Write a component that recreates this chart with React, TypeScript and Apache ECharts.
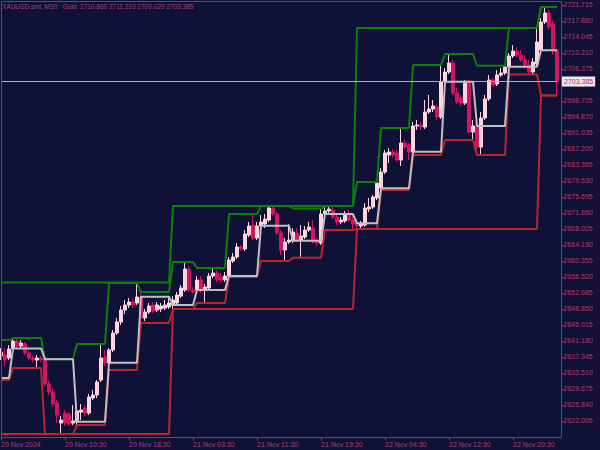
import React, { useEffect, useRef } from "react";
import * as echarts from "echarts";

// ---- data ----
const timeLabels = ["20 Nov 2024", "20 Nov 10:30", "20 Nov 18:30", "21 Nov 03:30", "21 Nov 11:30", "21 Nov 19:30", "22 Nov 04:30", "22 Nov 12:30", "22 Nov 20:30"];

const priceTicks = [2721.715, 2717.88, 2714.045, 2710.21, 2706.375, 2702.54, 2698.705, 2694.87, 2691.035, 2687.2, 2683.365, 2679.53, 2675.695, 2671.86, 2668.025, 2664.19, 2660.355, 2656.52, 2652.685, 2648.85, 2645.015, 2641.18, 2637.345, 2633.51, 2629.675, 2625.84, 2622.005];

const opens = [
  2637.58, 2637.82, 2637.10, 2639.38, 2641.17, 2639.97, 2640.45, 2638.30, 2637.10, 2636.62,
  2637.10, 2636.86, 2630.87, 2628.95, 2626.31, 2621.52, 2623.91, 2623.67, 2621.52, 2621.76,
  2624.15, 2625.11, 2623.91, 2627.51, 2628.23, 2631.82, 2637.34, 2635.90, 2639.01, 2643.09,
  2645.73, 2648.60, 2649.80, 2650.52, 2650.28, 2651.72, 2646.69, 2648.12, 2649.80, 2648.60,
  2648.84, 2649.08, 2649.32, 2649.80, 2650.28, 2651.96, 2653.40, 2658.43, 2653.40, 2653.40,
  2655.79, 2653.40, 2653.88, 2656.75, 2657.47, 2656.51, 2655.79, 2656.75, 2660.35, 2661.31,
  2663.70, 2663.22, 2666.58, 2668.98, 2665.86, 2668.74, 2669.22, 2670.18, 2673.05, 2671.61,
  2667.06, 2662.98, 2664.90, 2665.14, 2667.06, 2665.38, 2666.10, 2667.78, 2668.26, 2664.90,
  2664.66, 2671.61, 2672.33, 2672.57, 2670.90, 2669.70, 2669.94, 2671.61, 2670.18, 2669.46,
  2668.74, 2668.98, 2672.81, 2673.29, 2675.45, 2677.85, 2681.68, 2685.76, 2686.48, 2686.24,
  2684.56, 2688.63, 2688.15, 2686.48, 2692.71, 2692.95, 2692.47, 2696.06, 2696.78, 2697.26,
  2694.87, 2703.25, 2705.65, 2707.81, 2700.62, 2699.42, 2698.22, 2703.01, 2691.27, 2692.71,
  2687.67, 2694.63, 2699.18, 2703.73, 2702.78, 2704.93, 2705.41, 2706.85, 2709.49, 2710.69,
  2709.73, 2708.53, 2707.33, 2705.65, 2707.57, 2710.92, 2717.64, 2719.79, 2717.16, 2710.86
];
const closes = [
  2638.54, 2636.62, 2639.25, 2641.17, 2639.97, 2640.69, 2638.30, 2637.10, 2636.62, 2637.10,
  2636.62, 2630.87, 2628.95, 2626.07, 2623.43, 2622.24, 2621.52, 2621.28, 2622.00, 2624.39,
  2624.63, 2623.91, 2627.75, 2628.23, 2631.34, 2637.10, 2635.90, 2639.01, 2643.09, 2645.73,
  2648.60, 2649.80, 2650.52, 2649.80, 2651.72, 2646.69, 2648.12, 2649.56, 2648.36, 2649.80,
  2649.56, 2649.80, 2650.28, 2651.00, 2652.20, 2653.88, 2658.43, 2653.40, 2652.92, 2655.79,
  2653.40, 2654.12, 2656.75, 2657.47, 2655.79, 2655.79, 2656.75, 2660.59, 2661.31, 2663.70,
  2663.22, 2666.82, 2668.74, 2665.86, 2668.74, 2669.70, 2670.42, 2673.05, 2671.61, 2667.06,
  2662.98, 2664.90, 2665.38, 2667.30, 2665.38, 2666.34, 2667.78, 2668.50, 2664.90, 2664.66,
  2671.61, 2672.33, 2672.81, 2670.90, 2669.70, 2670.18, 2671.61, 2670.18, 2669.22, 2668.74,
  2669.22, 2673.05, 2673.29, 2675.69, 2679.04, 2681.68, 2686.24, 2686.48, 2685.76, 2684.56,
  2688.63, 2687.67, 2686.48, 2692.71, 2692.95, 2692.47, 2696.06, 2696.78, 2697.50, 2694.87,
  2703.25, 2705.65, 2707.81, 2700.62, 2698.46, 2698.22, 2703.01, 2691.27, 2692.71, 2687.67,
  2694.63, 2699.18, 2703.73, 2702.54, 2704.93, 2705.41, 2706.85, 2709.49, 2710.69, 2709.73,
  2708.53, 2707.33, 2705.65, 2708.05, 2712.84, 2717.64, 2719.79, 2716.44, 2710.92, 2703.385
];
const lows = [
  2636.62, 2635.18, 2636.62, 2639.01, 2639.49, 2639.49, 2637.82, 2636.62, 2636.14, 2634.70,
  2636.14, 2630.39, 2628.23, 2625.35, 2621.52, 2618.88, 2620.80, 2620.80, 2621.04, 2621.04,
  2622.24, 2623.19, 2623.43, 2627.03, 2627.51, 2631.34, 2635.18, 2634.22, 2638.54, 2642.61,
  2645.01, 2647.64, 2649.08, 2649.08, 2649.80, 2645.49, 2645.97, 2647.64, 2647.88, 2648.12,
  2648.12, 2648.60, 2648.84, 2648.84, 2649.56, 2651.48, 2652.92, 2652.92, 2652.44, 2652.92,
  2652.68, 2650.28, 2653.40, 2656.27, 2655.31, 2655.07, 2655.31, 2656.51, 2659.87, 2660.83,
  2662.75, 2662.75, 2666.10, 2665.38, 2665.38, 2667.78, 2668.26, 2669.70, 2671.13, 2666.58,
  2661.79, 2660.35, 2664.42, 2664.66, 2664.90, 2661.14, 2665.62, 2667.30, 2664.42, 2663.94,
  2664.18, 2671.13, 2671.61, 2670.42, 2668.98, 2669.22, 2669.46, 2669.70, 2667.78, 2668.02,
  2668.26, 2668.50, 2672.09, 2672.81, 2674.97, 2677.37, 2681.20, 2683.84, 2685.04, 2684.08,
  2683.12, 2687.19, 2684.56, 2685.76, 2691.75, 2691.75, 2691.99, 2695.58, 2696.06, 2694.15,
  2694.39, 2702.78, 2705.17, 2700.14, 2697.98, 2697.50, 2697.74, 2690.79, 2689.35, 2686.95,
  2685.76, 2694.15, 2698.70, 2702.06, 2702.30, 2704.45, 2704.93, 2706.61, 2709.01, 2709.25,
  2708.05, 2706.61, 2705.05, 2705.17, 2707.09, 2710.45, 2717.16, 2715.72, 2709.73, 2700.02
];
const highs = [
  2639.49, 2639.49, 2640.21, 2641.89, 2641.65, 2641.41, 2640.93, 2638.78, 2637.58, 2637.82,
  2637.58, 2636.86, 2631.82, 2629.91, 2627.03, 2623.19, 2624.63, 2624.15, 2625.83, 2624.87,
  2626.07, 2625.83, 2628.47, 2629.43, 2631.82, 2640.45, 2639.01, 2639.49, 2643.81, 2646.69,
  2649.56, 2651.00, 2651.48, 2651.24, 2655.07, 2652.92, 2648.84, 2650.28, 2650.52, 2650.52,
  2650.28, 2651.00, 2651.48, 2651.96, 2652.92, 2654.60, 2660.11, 2659.15, 2654.12, 2656.75,
  2656.75, 2654.84, 2657.47, 2658.67, 2658.19, 2657.47, 2657.71, 2661.31, 2662.27, 2664.66,
  2664.18, 2667.78, 2669.70, 2671.61, 2669.70, 2671.37, 2671.61, 2673.53, 2673.53, 2672.09,
  2667.78, 2665.86, 2669.22, 2668.26, 2668.26, 2668.98, 2668.74, 2669.70, 2670.18, 2665.86,
  2672.93, 2673.53, 2673.53, 2673.29, 2671.61, 2670.90, 2672.33, 2672.57, 2671.37, 2670.18,
  2669.94, 2674.25, 2675.45, 2676.17, 2679.28, 2682.64, 2686.95, 2687.43, 2687.19, 2686.95,
  2692.23, 2689.35, 2688.63, 2693.67, 2694.15, 2693.67, 2698.94, 2700.14, 2698.94, 2697.74,
  2707.33, 2706.61, 2709.97, 2708.53, 2701.82, 2700.14, 2703.73, 2703.73, 2694.15, 2694.63,
  2696.06, 2700.14, 2704.93, 2704.21, 2706.13, 2706.61, 2707.16, 2710.21, 2712.12, 2711.64,
  2710.92, 2709.73, 2708.53, 2709.01, 2716.20, 2718.60, 2721.23, 2720.51, 2718.12, 2711.21
];

// 4-hour channel steps (first bar index of each step)
const h4Start = [0, 3, 11, 19, 27, 35, 43, 49, 57, 65, 73, 81, 89, 95, 103, 111, 119, 127, 135];
const h4High = [2641.41, 2641.89, 2636.86, 2640.45, 2655.07, 2652.92, 2660.11, 2658.67, 2671.61, 2673.53, 2672.93, 2673.53, 2679.28, 2692.23, 2707.33, 2709.97, 2707.16, 2716.2, 2721.23];
const h4Low = [2631.82, 2634.7, 2618.88, 2621.04, 2634.22, 2645.49, 2648.84, 2650.28, 2656.51, 2660.35, 2661.14, 2667.78, 2668.02, 2677.37, 2685.76, 2689.35, 2685.76, 2705.05, 2700.02];
const h4Open = [2632.3, 2639.38, 2636.79, 2621.83, 2635.97, 2651.79, 2649.8, 2653.4, 2656.75, 2668.81, 2665.21, 2671.61, 2669.39, 2677.77, 2686.55, 2703.33, 2692.71, 2706.92, 2710.86];

// daily channel steps
const dayStart = [0, 43, 89, 135];
const dayHigh = [2655.2, 2673.53, 2716.2, 2721.23];
const dayLow = [2618.88, 2648.84, 2668.02, 2700.02];

const lastPrice = 2703.385;
const titleText = "XAUUSD.sml, M30:  Gold  2710.860 2711.210 2700.020 2703.385";

// ---- styling ----
const BG = "#0f1137";
const FG = "#a8406c";
const FRAME = "#8a3a62";
const BULL = "#ffd6df";
const BEAR = "#cf1760";
const GREEN = "#0a800a";
const RED = "#b8262a";
const SILVER = "#c0c0c4";
const FONT = "Liberation Sans";

const N = opens.length;
const categories = opens.map((_, i) => (i % 16 === 0 ? timeLabels[i / 16] : String(i)));
const candleData = opens.map((o, i) => [o, closes[i], lows[i], highs[i]]);
const stepSeries = (starts: number[], levels: number[]) => {
  const out: number[] = [];
  for (let i = 0; i < N; i++) {
    let k = 0;
    for (let j = 0; j < starts.length; j++) if (starts[j] <= i) k = j;
    out.push(levels[k]);
  }
  return out;
};

const lineSeries = (data: number[], color: string, z: number) => ({
  type: "line",
  data,
  symbol: "none",
  silent: true,
  z,
  lineStyle: { color, width: 2 },
});

export default function App() {
  const ref = useRef<HTMLDivElement>(null);
  useEffect(() => {
    const chart = echarts.init(ref.current!, null, { renderer: "svg" });
    const option: any = {
      animation: false,
      backgroundColor: BG,
      title: {
        text: titleText,
        left: 2,
        top: 3,
        padding: 0,
        textStyle: { fontSize: 6.5, color: FG, fontWeight: "normal", fontFamily: FONT },
      },
      grid: { left: 1, right: 43, top: 1, bottom: 12.5, containLabel: false, outerBoundsMode: "none" },
      xAxis: {
        type: "category",
        data: categories,
        boundaryGap: false,
        axisLine: { show: false },
        axisTick: { show: true, interval: 15, length: 3, lineStyle: { color: FRAME } },
        axisLabel: {
          interval: 15,
          align: "left",
          margin: 3,
          fontSize: 7,
          color: FG,
          fontFamily: FONT,
          formatter: (v: string, i: number) => (i % 16 === 0 ? timeLabels[i / 16] : ""),
        },
        splitLine: { show: false },
      },
      yAxis: {
        type: "value",
        position: "right",
        min: 2618.05,
        max: 2722.67,
        offset: 4.5,
        scale: true,
        axisLine: { show: false },
        axisTick: { show: true, length: 3, customValues: priceTicks, lineStyle: { color: FRAME } },
        axisLabel: {
          customValues: priceTicks,
          margin: 2,
          fontSize: 7,
          color: FG,
          fontFamily: FONT,
          formatter: (v: number) => v.toFixed(3),
        },
        splitLine: { show: false },
      },
      graphic: [
        {
          type: "rect",
          z: 100,
          silent: true,
          shape: { x: 1.5, y: 1.5, width: 560, height: 436 },
          style: { fill: "none", stroke: FRAME, lineWidth: 1 },
        },
      ],
      series: [
        {
          type: "candlestick",
          data: candleData,
          barWidth: 3,
          z: 2,
          silent: true,
          itemStyle: {
            color: BULL,
            color0: BEAR,
            borderColor: BULL,
            borderColor0: BEAR,
            borderWidth: 1,
          },
          markLine: {
            silent: true,
            symbol: ["none", "none"],
            lineStyle: { color: "#b8a8b8", width: 1, type: "solid" },
            label: {
              show: true,
              position: "end",
              distance: 5,
              formatter: lastPrice.toFixed(3),
              fontSize: 7,
              fontFamily: FONT,
              color: "#b03060",
              backgroundColor: "#f2e6ec",
              padding: [2, 2, 1, 2],
            },
            data: [{ yAxis: lastPrice }],
          },
        },
        lineSeries(stepSeries(dayStart, dayHigh), GREEN, 3),
        lineSeries(stepSeries(dayStart, dayLow), RED, 3),
        lineSeries(stepSeries(h4Start, h4High), GREEN, 4),
        lineSeries(stepSeries(h4Start, h4Low), RED, 4),
        lineSeries(stepSeries(h4Start, h4Open), SILVER, 5),
      ],
    };
    chart.setOption(option);
    return () => chart.dispose();
  }, []);
  return <div ref={ref} style={{ position: "absolute", left: 0, top: 0, width: 600, height: 450 }} />;
}
